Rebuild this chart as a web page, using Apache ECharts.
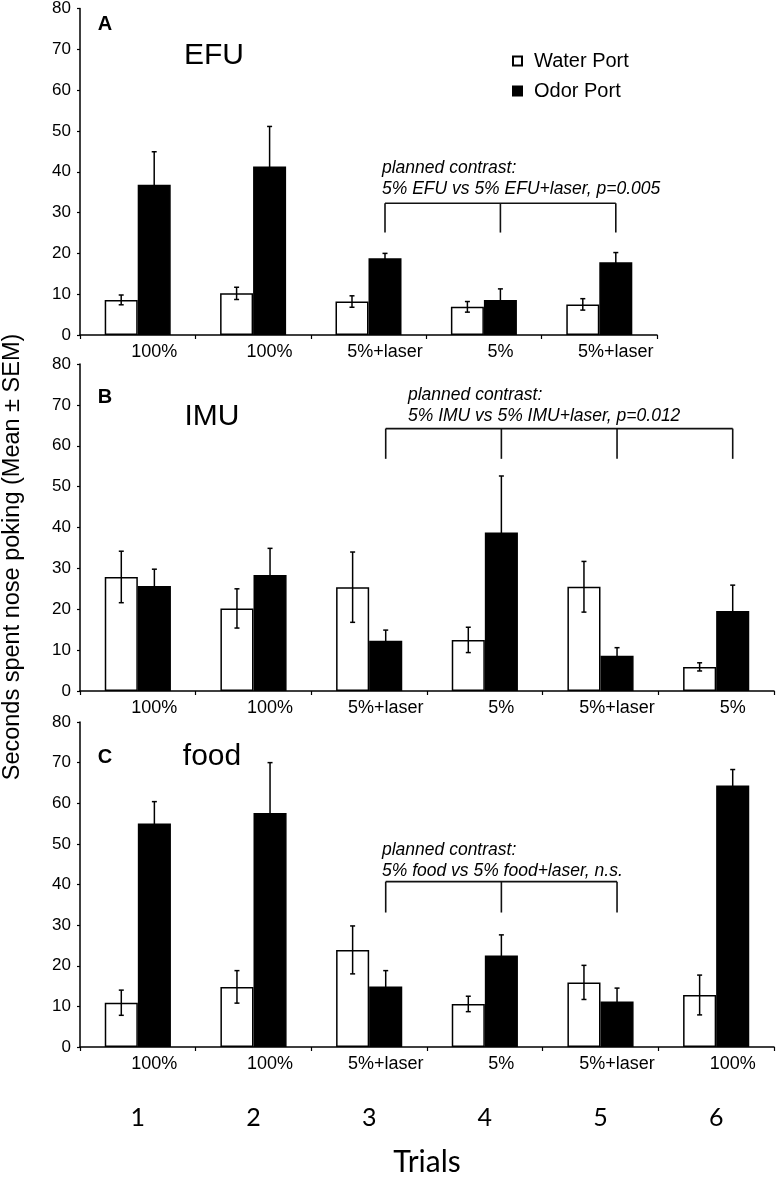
<!DOCTYPE html>
<html>
<head>
<meta charset="utf-8">
<script src="https://cdn.jsdelivr.net/npm/echarts@6/dist/echarts.min.js"></script>
<style>
html,body{margin:0;padding:0;background:#fff;}
#chart{width:777px;height:1178px;}
</style>
</head>
<body>
<div id="chart"></div>
<script>
// ---------- data ----------
const catsA = ['100%', '100%', '5%+laser', '5%', '5%+laser'];
const catsB = ['100%', '100%', '5%+laser', '5%', '5%+laser', '5%'];
const catsC = ['100%', '100%', '5%+laser', '5%', '5%+laser', '100%'];
const trials = ['1', '2', '3', '4', '5', '6'];

const waterA = [8.6, 10.2, 8.2, 6.9, 7.5];
const waterA_sem = [1.2, 1.5, 1.4, 1.3, 1.4];
const odorA = [36.8, 41.3, 18.8, 8.6, 17.8];
const odorA_sem = [8.1, 9.8, 1.2, 2.7, 2.4];

const waterB = [27.9, 20.2, 25.4, 12.5, 25.5, 5.9];
const waterB_sem = [6.3, 4.8, 8.6, 3.1, 6.2, 1.0];
const odorB = [25.7, 28.4, 12.3, 38.8, 8.6, 19.6];
const odorB_sem = [4.1, 6.5, 2.6, 13.8, 2.0, 6.3];

const waterC = [10.9, 14.8, 23.9, 10.6, 15.9, 12.8];
const waterC_sem = [3.1, 4.0, 5.9, 1.9, 4.2, 4.9];
const odorC = [55.0, 57.6, 14.9, 22.5, 11.2, 64.4];
const odorC_sem = [5.4, 12.4, 3.9, 5.1, 3.3, 3.9];

// planned-contrast brackets (category indices, top level, foot level)
const bracketA = { cats: [2, 3, 4], top: 32.3, foot: 25.1 };
const bracketB = { cats: [2, 3, 4, 5], top: 64.2, foot: 56.8 };
const bracketC = { cats: [2, 3, 4], top: 40.7, foot: 33.1 };

const contrastA = 'planned contrast:\n5% EFU vs 5% EFU+laser, p=0.005';
const contrastB = 'planned contrast:\n5% IMU vs 5% IMU+laser, p=0.012';
const contrastC = 'planned contrast:\n5% food vs 5% food+laser, n.s.';

// ---------- chart ----------
const FONT = '"Liberation Sans", Arial, Helvetica, sans-serif';
const FONT2 = 'Lato, "Open Sans", sans-serif';
const BAR_FRAC = 0.286;
const chart = echarts.init(document.getElementById('chart'));

const grids = [
  { left: 80, top: 8, width: 577, height: 327 },
  { left: 80, top: 364, width: 694, height: 327 },
  { left: 80, top: 722, width: 694, height: 326 }
];

function xAxisFor(gi, cats) {
  return {
    type: 'category', gridIndex: gi, data: cats,
    axisLine: { lineStyle: { color: '#000', width: 1.5 } },
    axisTick: { show: true, length: 4, lineStyle: { color: '#000', width: 1.2 } },
    axisLabel: { color: '#000', fontSize: 18, fontFamily: FONT, margin: 8, padding: [0, 0, 0, 33] }
  };
}
function yAxisFor(gi) {
  return {
    type: 'value', gridIndex: gi, min: 0, max: 80, interval: 10,
    axisLine: { show: true, lineStyle: { color: '#000', width: 1.5 } },
    axisTick: { show: true, length: 3, lineStyle: { color: '#000', width: 1.2 } },
    splitLine: { show: false },
    axisLabel: { color: '#000', fontSize: 17, fontFamily: FONT, margin: 9 }
  };
}

function errSeries(gi, vals, sems, side) {
  return {
    type: 'custom', xAxisIndex: gi, yAxisIndex: gi, z: 5, silent: true,
    data: vals.map((v, i) => [i, v, sems[i]]),
    renderItem: function (params, api) {
      const i = api.value(0), v = api.value(1), e = api.value(2);
      const c = api.coord([i, v]);
      const bw = api.size([1, 0])[0] * BAR_FRAC;
      const x = c[0] + side * bw / 2;
      const top = api.coord([i, v + e])[1];
      const bot = api.coord([i, Math.max(0, v - e)])[1];
      const st = { stroke: '#000', lineWidth: 1.5 };
      return {
        type: 'group', children: [
          { type: 'line', shape: { x1: x, y1: top, x2: x, y2: bot }, style: st },
          { type: 'line', shape: { x1: x - 2.5, y1: top, x2: x + 2.5, y2: top }, style: st },
          { type: 'line', shape: { x1: x - 2.5, y1: bot, x2: x + 2.5, y2: bot }, style: st }
        ]
      };
    }
  };
}

function bracketSeries(gi, br) {
  return {
    type: 'custom', xAxisIndex: gi, yAxisIndex: gi, z: 6, silent: true,
    data: [[br.cats[0], br.top]],
    renderItem: function (params, api) {
      const bw = api.size([1, 0])[0] * BAR_FRAC;
      const xs = br.cats.map(c => api.coord([c, 0])[0] + bw / 2);
      const yt = api.coord([0, br.top])[1];
      const yf = api.coord([0, br.foot])[1];
      const st = { stroke: '#111', lineWidth: 1.6 };
      const ch = [{ type: 'line', shape: { x1: xs[0], y1: yt, x2: xs[xs.length - 1], y2: yt }, style: st }];
      xs.forEach(x => ch.push({ type: 'line', shape: { x1: x, y1: yt, x2: x, y2: yf }, style: st }));
      return { type: 'group', children: ch };
    }
  };
}

function barPair(gi, water, odor) {
  return [
    { name: 'Water Port', type: 'bar', xAxisIndex: gi, yAxisIndex: gi, data: water,
      barWidth: (BAR_FRAC * 100) + '%', barGap: '0%',
      itemStyle: { color: '#fff', borderColor: '#000', borderWidth: 1.5 } },
    { name: 'Odor Port', type: 'bar', xAxisIndex: gi, yAxisIndex: gi, data: odor,
      barWidth: (BAR_FRAC * 100) + '%', barGap: '0%',
      itemStyle: { color: '#000', borderColor: '#000', borderWidth: 1.5 } }
  ];
}

const txt = (x, y, s, size, opts) => ({
  type: 'text', x: x, y: y,
  style: Object.assign({ text: s, fill: '#000', font: size + 'px ' + FONT, textAlign: 'center', textVerticalAlign: 'middle' }, opts || {})
});

const italic = (x, y, s) => ({
  type: 'text', x: x, y: y,
  style: { text: s, fill: '#000', font: 'italic 17.5px ' + FONT, textAlign: 'left', textVerticalAlign: 'top', lineHeight: 21 }
});

const option = {
  animation: false,
  backgroundColor: '#fff',
  grid: grids,
  legend: {
    data: ['Water Port', 'Odor Port'], orient: 'vertical', left: 512, top: 51, padding: 0,
    icon: 'rect', itemWidth: 9, itemHeight: 9, itemGap: 10,
    textStyle: { fontSize: 20, fontFamily: FONT, color: '#000', padding: [0, 0, 0, 7] }
  },
  xAxis: [
    xAxisFor(0, catsA), xAxisFor(1, catsB), xAxisFor(2, catsC),
    {
      type: 'category', gridIndex: 2, data: trials, position: 'bottom', offset: 58,
      axisLine: { show: false }, axisTick: { show: false },
      axisLabel: { color: '#000', fontSize: 25, fontFamily: FONT2, margin: 0 },
      name: 'Trials', nameLocation: 'middle', nameGap: 57,
      nameTextStyle: { color: '#000', fontSize: 30, fontFamily: FONT2, verticalAlign: 'middle' }
    }
  ],
  yAxis: [yAxisFor(0), yAxisFor(1), yAxisFor(2)],
  series: [
    ...barPair(0, waterA, odorA),
    errSeries(0, waterA, waterA_sem, -1), errSeries(0, odorA, odorA_sem, 1),
    bracketSeries(0, bracketA),
    ...barPair(1, waterB, odorB),
    errSeries(1, waterB, waterB_sem, -1), errSeries(1, odorB, odorB_sem, 1),
    bracketSeries(1, bracketB),
    ...barPair(2, waterC, odorC),
    errSeries(2, waterC, waterC_sem, -1), errSeries(2, odorC, odorC_sem, 1),
    bracketSeries(2, bracketC)
  ],
  graphic: [
    txt(105, 24, 'A', 20, { font: 'bold 20px ' + FONT }),
    txt(214, 56, 'EFU', 30),
    txt(105, 397, 'B', 20, { font: 'bold 20px ' + FONT }),
    txt(212, 417, 'IMU', 30),
    txt(105, 757, 'C', 20, { font: 'bold 20px ' + FONT }),
    txt(212, 757, 'food', 30),
    italic(382, 158, contrastA),
    italic(408, 385, contrastB),
    italic(382, 840, contrastC),
    {
      type: 'text', x: 13, y: 557, rotation: Math.PI / 2,
      style: { text: 'Seconds spent nose poking (Mean ± SEM)', fill: '#000', font: '23.5px ' + FONT, textAlign: 'center', textVerticalAlign: 'middle' }
    }
  ]
};
chart.setOption(option);
</script>
</body>
</html>
